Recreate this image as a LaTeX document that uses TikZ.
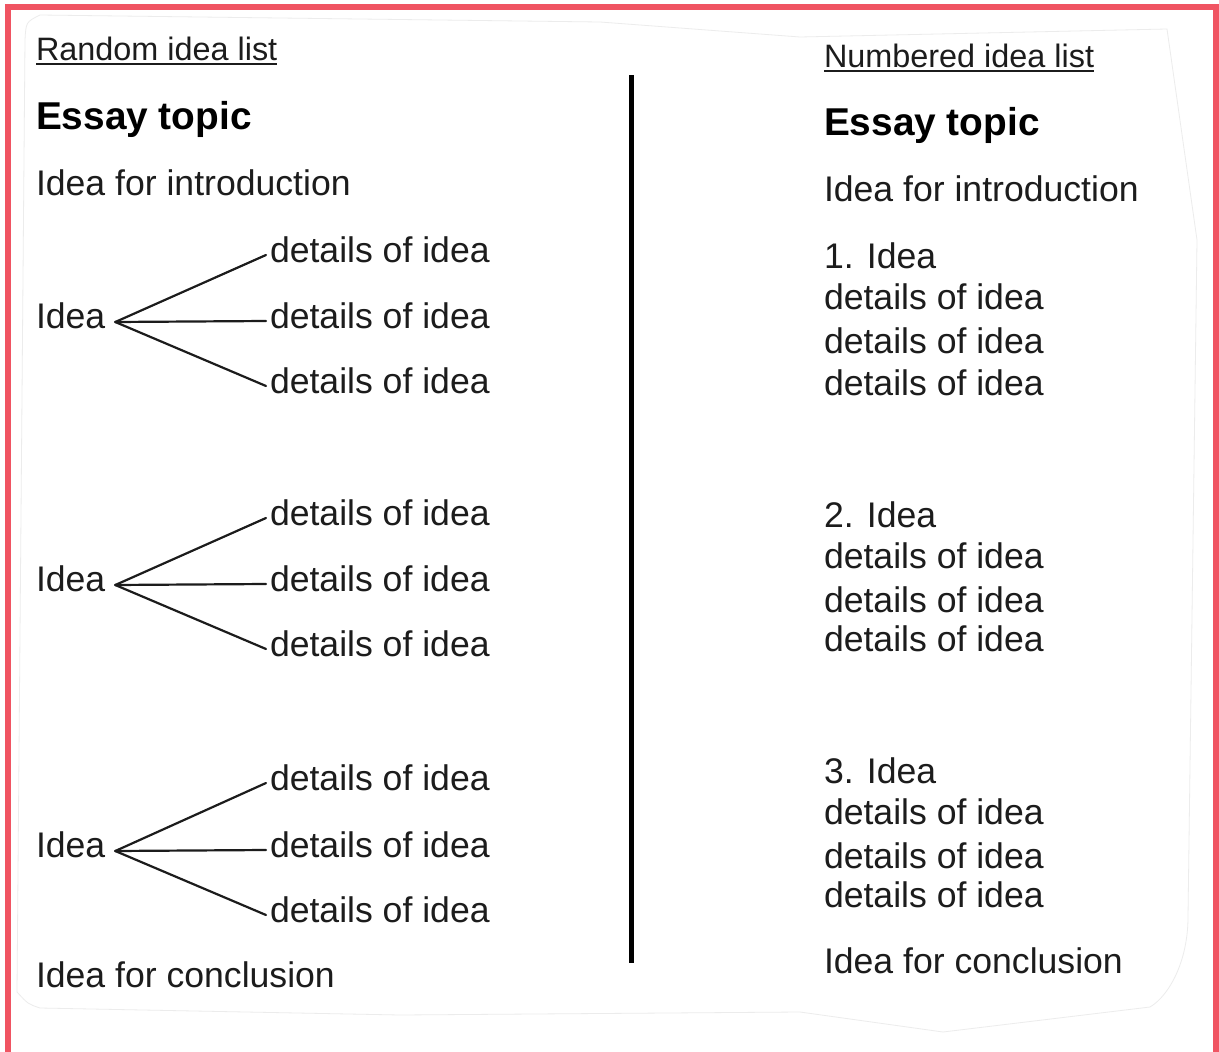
\documentclass[tikz,border=0pt]{standalone}
\usepackage{fontspec}
\setmainfont{Liberation Sans}
\definecolor{ink}{RGB}{28,28,28}
\definecolor{frame}{RGB}{240,84,98}
\definecolor{paper}{RGB}{236,236,236}
\tikzset{
  txt/.style={anchor=base west, inner sep=0pt, outer sep=0pt, text=ink, font=\fontsize{35.6}{40}\selectfont},
  ttl/.style={txt, text=black, font=\fontsize{38.8}{44}\selectfont\bfseries},
  hdr/.style={txt, font=\fontsize{32.4}{38}\selectfont},
  uline/.style={draw=ink, line width=2pt},
  branch/.style={draw=ink, line width=2.2pt, line cap=round},
  divider/.style={draw=black, line width=5pt},
  edge/.style={draw=paper, line width=0.8pt},
  redbar/.style={draw=frame, line width=6pt}
}
\begin{document}
\begin{tikzpicture}[x=1pt,y=-1pt]
\useasboundingbox[fill=white] (0,0) rectangle (1219,1052);
% faint paper edge
\draw[edge] (40,15) -- (600,22) -- (800,37) -- (1167,29) -- (1197,240) -- (1188,917)
  .. controls (1188,960) and (1170,995) .. (1150,1007) -- (943,1032) -- (800,1012)
  -- (400,1015) -- (40,1008) .. controls (28,1004) .. (17,992) -- (25,40)
  .. controls (26,22) .. (40,15);
% red frame (top, left, right)
\draw[redbar] (8,1052) -- (8,7) -- (1216,7) -- (1216,1052);

% ---------- left column ----------
\node[hdr] (h1) at (36,60) {Random idea list};
\draw[uline] ([yshift=-3.5pt]h1.base west) -- ([yshift=-3.5pt]h1.base east);
\node[ttl] (t1) at (36,129) {Essay topic};
\node[txt] (in1) at (36,195) {Idea for introduction};

\node[txt] (i1) at (36,328) {Idea};
\node[txt] (d11) at (270,262) {details of idea};
\node[txt] (d12) at (270,328) {details of idea};
\node[txt] (d13) at (270,393) {details of idea};

\node[txt] (i2) at (36,591) {Idea};
\node[txt] (d21) at (270,525) {details of idea};
\node[txt] (d22) at (270,591) {details of idea};
\node[txt] (d23) at (270,656) {details of idea};

\node[txt] (i3) at (36,857) {Idea};
\node[txt] (d31) at (270,790) {details of idea};
\node[txt] (d32) at (270,857) {details of idea};
\node[txt] (d33) at (270,922) {details of idea};

\node[txt] (c1) at (36,987) {Idea for conclusion};

\foreach \k in {1,2,3}{
  \coordinate (a\k) at ([shift={(10pt,6pt)}]i\k.base east);
  \foreach \j in {1,2,3}{
    \draw[branch] (a\k) -- ([shift={(-4pt,7pt)}]d\k\j.base west);
  }
}

% ---------- divider ----------
\coordinate (vtop) at (631.5,75);
\coordinate (vbot) at (631.5,963);
\draw[divider] (vtop) -- (vbot);

% ---------- right column ----------
\node[hdr] (h2) at (824,67) {Numbered idea list};
\draw[uline] ([yshift=-3.5pt]h2.base west) -- ([yshift=-3.5pt]h2.base east);
\node[ttl] (t2) at (824,135) {Essay topic};
\node[txt] (in2) at (824,201) {Idea for introduction};

\node[txt] (n1) at (824,268) {1. Idea};
\node[txt] (e11) at (824,309) {details of idea};
\node[txt] (e12) at (824,353) {details of idea};
\node[txt] (e13) at (824,395) {details of idea};

\node[txt] (n2) at (824,527) {2. Idea};
\node[txt] (e21) at (824,568) {details of idea};
\node[txt] (e22) at (824,612) {details of idea};
\node[txt] (e23) at (824,651) {details of idea};

\node[txt] (n3) at (824,783) {3. Idea};
\node[txt] (e31) at (824,824) {details of idea};
\node[txt] (e32) at (824,868) {details of idea};
\node[txt] (e33) at (824,907) {details of idea};

\node[txt] (c2) at (824,973) {Idea for conclusion};
\end{tikzpicture}
\end{document}
